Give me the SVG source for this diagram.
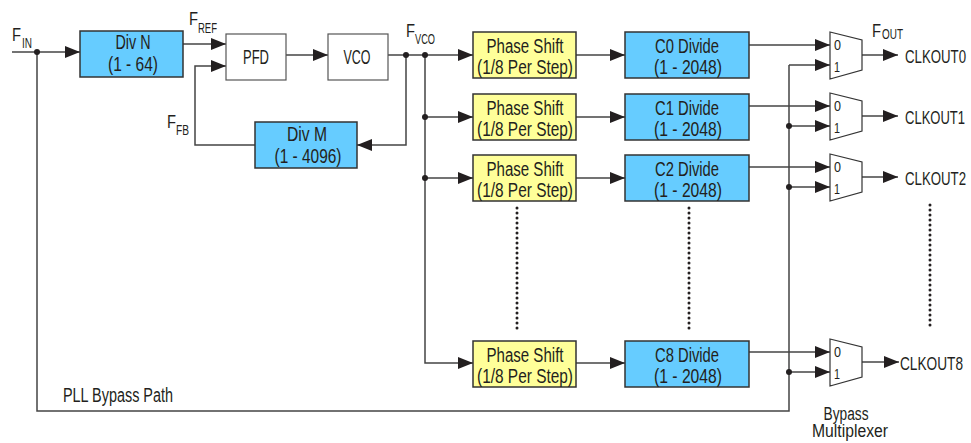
<svg xmlns="http://www.w3.org/2000/svg" width="971" height="443" viewBox="0 0 971 443">
<style>
text{font-family:"Liberation Sans",Arial,sans-serif;fill:#231f20}
.t{font-size:20px;text-anchor:middle}
.b{font-size:18px;text-anchor:middle}
.l{font-size:20px}
.k{font-size:19px}
.f{font-size:18px}
.s{font-size:14px}
.m{font-size:14px}
.blue{fill:#66ccff;stroke:#333;stroke-width:1.5}
.yel{fill:#ffff99;stroke:#333;stroke-width:1.5}
.wht{fill:#fff;stroke:#555;stroke-width:1.2}
.mux{fill:#fff;stroke:#333;stroke-width:1.2}
.c{fill:none;stroke:#444;stroke-width:1.5}
.a{marker-end:url(#ah)}
.d{fill:#231f20}
.dot{fill:none;stroke:#231f20;stroke-width:3;stroke-linecap:round;stroke-dasharray:0 5}
</style>
<defs>
<marker id="ah" markerUnits="userSpaceOnUse" markerWidth="16" markerHeight="12" refX="15" refY="6" orient="auto">
<path d="M0,0 L15,6 L0,12 z" fill="#231f20"/>
</marker>
</defs>

<g id="connectors">
<path class="c a" d="M12,52 H80"/>
<path class="c a" d="M183,44 H226"/>
<path class="c a" d="M255,145 H195 V66 H226"/>
<path class="c a" d="M286,55 H328"/>
<path class="c a" d="M388,55 H473"/>
<path class="c a" d="M406,55 V145 H357"/>
<path class="c a" d="M425,55 V363 H473"/>
<path class="c a" d="M425,117 H473"/>
<path class="c a" d="M425,178 H473"/>
<path class="c a" d="M576,55 H625"/>
<path class="c a" d="M576,117 H625"/>
<path class="c a" d="M576,178 H625"/>
<path class="c a" d="M576,363 H625"/>
<path class="c a" d="M749,45 H830"/>
<path class="c a" d="M749,106 H830"/>
<path class="c a" d="M749,167 H830"/>
<path class="c a" d="M749,352 H830"/>
<path class="c" d="M37,52 V411 H789 V65"/>
<path class="c a" d="M789,65 H830"/>
<path class="c a" d="M789,126 H830"/>
<path class="c a" d="M789,187 H830"/>
<path class="c a" d="M789,372 H830"/>
<path class="c a" d="M862,55 H898"/>
<path class="c a" d="M862,116 H898"/>
<path class="c a" d="M862,177 H898"/>
<path class="c a" d="M862,362 H899"/>
<circle class="d" cx="37" cy="52" r="3"/>
<circle class="d" cx="406" cy="55" r="3"/>
<circle class="d" cx="425" cy="55" r="3"/>
<circle class="d" cx="425" cy="117" r="3"/>
<circle class="d" cx="425" cy="178" r="3"/>
<circle class="d" cx="789" cy="126" r="3"/>
<circle class="d" cx="789" cy="187" r="3"/>
<circle class="d" cx="789" cy="372" r="3"/>
<path class="dot" d="M517,208 V333"/>
<path class="dot" d="M689,208 V333"/>
<path class="dot" d="M930,205 V330"/>
</g>

<g id="labels">
<text class="f" x="12" y="41" textLength="9" lengthAdjust="spacingAndGlyphs">F</text><text class="s" x="22" y="48" textLength="10" lengthAdjust="spacingAndGlyphs">IN</text>
<text class="f" x="189" y="25" textLength="9" lengthAdjust="spacingAndGlyphs">F</text><text class="s" x="198" y="33" textLength="19" lengthAdjust="spacingAndGlyphs">REF</text>
<text class="f" x="167" y="128" textLength="9" lengthAdjust="spacingAndGlyphs">F</text><text class="s" x="176" y="135" textLength="13" lengthAdjust="spacingAndGlyphs">FB</text>
<text class="f" x="406" y="37" textLength="9" lengthAdjust="spacingAndGlyphs">F</text><text class="s" x="415" y="44" textLength="20" lengthAdjust="spacingAndGlyphs">VCO</text>
<text class="f" x="872" y="37" textLength="9" lengthAdjust="spacingAndGlyphs">F</text><text class="s" x="882" y="39" textLength="21" lengthAdjust="spacingAndGlyphs">OUT</text>
<text class="l" x="63" y="402" textLength="110" lengthAdjust="spacingAndGlyphs">PLL Bypass Path</text>
<text class="b" x="846" y="420" textLength="45" lengthAdjust="spacingAndGlyphs">Bypass</text>
<text class="b" x="850" y="437" textLength="76" lengthAdjust="spacingAndGlyphs">Multiplexer</text>
</g>

<g id="divN"><rect class="blue" x="80" y="31" width="103" height="46"/><text class="t" x="133" y="49" textLength="35" lengthAdjust="spacingAndGlyphs">Div N</text><text class="t" x="133" y="71" textLength="50" lengthAdjust="spacingAndGlyphs">(1 - 64)</text></g>
<g id="pfd"><rect class="wht" x="226" y="34" width="60" height="46"/><text class="t" x="256" y="64" textLength="26" lengthAdjust="spacingAndGlyphs">PFD</text></g>
<g id="vco"><rect class="wht" x="328" y="34" width="60" height="46"/><text class="t" x="357" y="64" textLength="27" lengthAdjust="spacingAndGlyphs">VCO</text></g>
<g id="divM"><rect class="blue" x="255" y="122" width="102" height="46"/><text class="t" x="307" y="141" textLength="40" lengthAdjust="spacingAndGlyphs">Div M</text><text class="t" x="308" y="163" textLength="67" lengthAdjust="spacingAndGlyphs">(1 - 4096)</text></g>

<g id="ps0"><rect class="yel" x="473" y="32" width="103" height="46"/><text class="t" x="525" y="53" textLength="77" lengthAdjust="spacingAndGlyphs">Phase Shift</text><text class="t" x="525" y="74" textLength="96" lengthAdjust="spacingAndGlyphs">(1/8 Per Step)</text></g>
<g id="ps1"><rect class="yel" x="473" y="94" width="103" height="46"/><text class="t" x="525" y="115" textLength="77" lengthAdjust="spacingAndGlyphs">Phase Shift</text><text class="t" x="525" y="136" textLength="96" lengthAdjust="spacingAndGlyphs">(1/8 Per Step)</text></g>
<g id="ps2"><rect class="yel" x="473" y="155" width="103" height="46"/><text class="t" x="525" y="176" textLength="77" lengthAdjust="spacingAndGlyphs">Phase Shift</text><text class="t" x="525" y="197" textLength="96" lengthAdjust="spacingAndGlyphs">(1/8 Per Step)</text></g>
<g id="ps8"><rect class="yel" x="473" y="341" width="103" height="46"/><text class="t" x="525" y="362" textLength="77" lengthAdjust="spacingAndGlyphs">Phase Shift</text><text class="t" x="525" y="383" textLength="96" lengthAdjust="spacingAndGlyphs">(1/8 Per Step)</text></g>

<g id="c0"><rect class="blue" x="625" y="32" width="124" height="46"/><text class="t" x="687" y="53" textLength="64" lengthAdjust="spacingAndGlyphs">C0 Divide</text><text class="t" x="688" y="74" textLength="68" lengthAdjust="spacingAndGlyphs">(1 - 2048)</text></g>
<g id="c1"><rect class="blue" x="625" y="94" width="124" height="46"/><text class="t" x="687" y="115" textLength="64" lengthAdjust="spacingAndGlyphs">C1 Divide</text><text class="t" x="688" y="136" textLength="68" lengthAdjust="spacingAndGlyphs">(1 - 2048)</text></g>
<g id="c2"><rect class="blue" x="625" y="155" width="124" height="46"/><text class="t" x="687" y="176" textLength="64" lengthAdjust="spacingAndGlyphs">C2 Divide</text><text class="t" x="688" y="197" textLength="68" lengthAdjust="spacingAndGlyphs">(1 - 2048)</text></g>
<g id="c8"><rect class="blue" x="625" y="341" width="124" height="46"/><text class="t" x="687" y="362" textLength="64" lengthAdjust="spacingAndGlyphs">C8 Divide</text><text class="t" x="688" y="383" textLength="68" lengthAdjust="spacingAndGlyphs">(1 - 2048)</text></g>

<g id="mux0"><path class="mux" d="M830,32 L862,40 V70 L830,79 z"/><text class="m" x="834" y="50" textLength="7" lengthAdjust="spacingAndGlyphs">0</text><text class="m" x="834" y="72" textLength="6" lengthAdjust="spacingAndGlyphs">1</text><text class="k" x="905" y="63" textLength="61" lengthAdjust="spacingAndGlyphs">CLKOUT0</text></g>
<g id="mux1"><path class="mux" d="M830,93 L862,101 V131 L830,140 z"/><text class="m" x="834" y="111" textLength="7" lengthAdjust="spacingAndGlyphs">0</text><text class="m" x="834" y="133" textLength="6" lengthAdjust="spacingAndGlyphs">1</text><text class="k" x="905" y="124" textLength="60" lengthAdjust="spacingAndGlyphs">CLKOUT1</text></g>
<g id="mux2"><path class="mux" d="M830,154 L862,162 V192 L830,201 z"/><text class="m" x="834" y="172" textLength="7" lengthAdjust="spacingAndGlyphs">0</text><text class="m" x="834" y="194" textLength="6" lengthAdjust="spacingAndGlyphs">1</text><text class="k" x="905" y="185" textLength="61" lengthAdjust="spacingAndGlyphs">CLKOUT2</text></g>
<g id="mux8"><path class="mux" d="M830,339 L862,347 V377 L830,386 z"/><text class="m" x="834" y="357" textLength="7" lengthAdjust="spacingAndGlyphs">0</text><text class="m" x="834" y="379" textLength="6" lengthAdjust="spacingAndGlyphs">1</text><text class="k" x="900" y="370" textLength="63" lengthAdjust="spacingAndGlyphs">CLKOUT8</text></g>
</svg>
